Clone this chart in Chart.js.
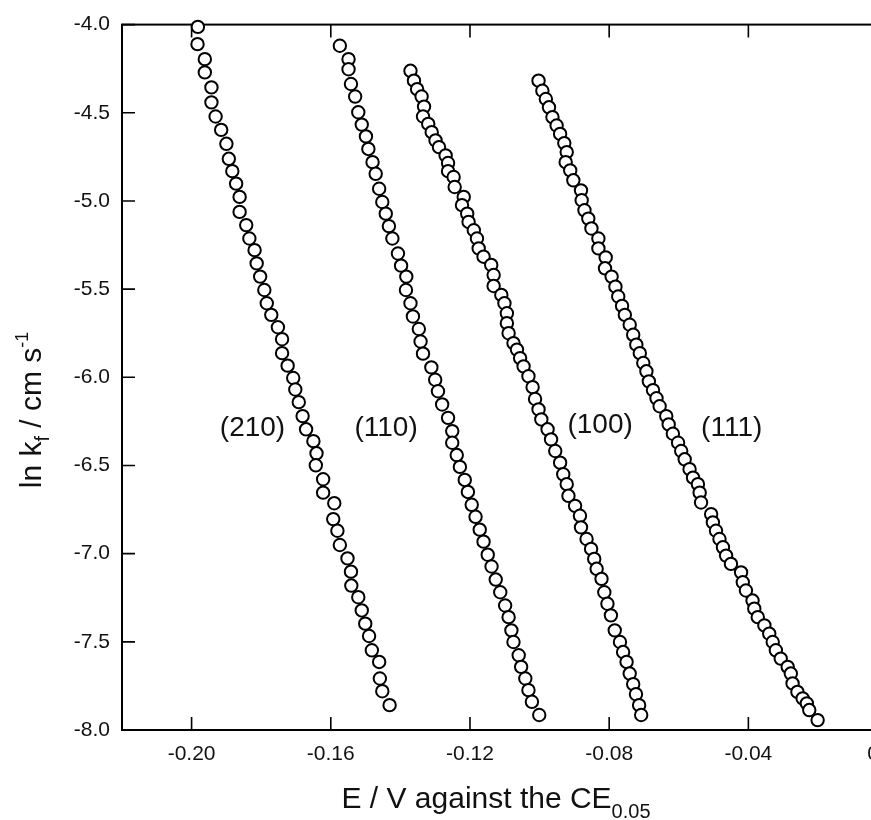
<!DOCTYPE html>
<html><head><meta charset="utf-8">
<script src="https://cdn.jsdelivr.net/npm/chart.js@4.4.1/dist/chart.umd.min.js"></script>
<style>
html,body{margin:0;padding:0;background:#fff;overflow:hidden;}
#wrap{position:relative;width:920px;height:820px;}
</style></head><body>
<div id="wrap"><canvas id="c" width="920" height="820"></canvas></div>
<script>
// ---- axis ticks ----
const xTicks = [-0.20, -0.16, -0.12, -0.08, -0.04, 0.00];
const yTicks = [-8.0, -7.5, -7.0, -6.5, -6.0, -5.5, -5.0, -4.5, -4.0];

// ---- series names and label anchors (data units) ----
const seriesNames = ["(210)", "(110)", "(100)", "(111)"];
const labelX = [-0.1825, -0.1441, -0.0826, -0.0448];
const labelY = [-6.29, -6.29, -6.27, -6.29];

// ---- (210) ----
const e210 = [-0.1982,-0.1983,-0.1962,-0.1962,-0.1943,-0.1943,-0.1931,-0.1915,-0.1900,-0.1893,
  -0.1883,-0.1872,-0.1862,-0.1862,-0.1843,-0.1834,-0.1819,-0.1813,-0.1803,-0.1791,
  -0.1784,-0.1771,-0.1752,-0.1740,-0.1740,-0.1724,-0.1708,-0.1702,-0.1692,-0.1681,
  -0.1671,-0.1650,-0.1641,-0.1643,-0.1622,-0.1622,-0.1590,-0.1593,-0.1581,-0.1574,
  -0.1552,-0.1542,-0.1541,-0.1521,-0.1511,-0.1501,-0.1490,-0.1482,-0.1461,-0.1459,
  -0.1452,-0.1431];
const k210 = [-4.013,-4.111,-4.196,-4.271,-4.356,-4.441,-4.521,-4.597,-4.676,-4.761,
  -4.831,-4.902,-4.977,-5.062,-5.137,-5.213,-5.279,-5.354,-5.429,-5.505,
  -5.580,-5.646,-5.716,-5.784,-5.863,-5.934,-6.004,-6.069,-6.141,-6.220,
  -6.295,-6.362,-6.431,-6.499,-6.578,-6.654,-6.714,-6.804,-6.870,-6.951,
  -7.027,-7.102,-7.181,-7.247,-7.322,-7.397,-7.467,-7.548,-7.614,-7.708,
  -7.780,-7.859];

// ---- (110) ----
const e110 = [-0.1574,-0.1549,-0.1549,-0.1542,-0.1530,-0.1521,-0.1511,-0.1499,-0.1492,-0.1480,
  -0.1471,-0.1461,-0.1452,-0.1442,-0.1433,-0.1423,-0.1407,-0.1398,-0.1383,-0.1384,
  -0.1371,-0.1364,-0.1347,-0.1342,-0.1335,-0.1311,-0.1300,-0.1292,-0.1280,-0.1263,
  -0.1251,-0.1251,-0.1238,-0.1229,-0.1215,-0.1206,-0.1195,-0.1184,-0.1172,-0.1161,
  -0.1149,-0.1138,-0.1126,-0.1113,-0.1099,-0.1089,-0.1081,-0.1075,-0.1060,-0.1053,
  -0.1041,-0.1032,-0.1022,-0.1001];
const k110 = [-4.120,-4.196,-4.253,-4.337,-4.408,-4.497,-4.567,-4.634,-4.705,-4.780,
  -4.846,-4.931,-5.006,-5.072,-5.143,-5.213,-5.298,-5.367,-5.429,-5.505,
  -5.580,-5.655,-5.726,-5.797,-5.866,-5.944,-6.014,-6.079,-6.154,-6.230,
  -6.305,-6.371,-6.441,-6.508,-6.582,-6.650,-6.723,-6.791,-6.864,-6.932,
  -7.006,-7.073,-7.147,-7.219,-7.294,-7.360,-7.435,-7.501,-7.576,-7.642,
  -7.708,-7.774,-7.840,-7.915];

// ---- (100) ----
const e100 = [-0.1371,-0.1361,-0.1352,-0.1339,-0.1332,-0.1335,-0.1320,-0.1310,-0.1299,-0.1289,
  -0.1270,-0.1263,-0.1263,-0.1247,-0.1244,-0.1218,-0.1223,-0.1208,-0.1204,-0.1189,
  -0.1180,-0.1175,-0.1161,-0.1139,-0.1132,-0.1132,-0.1110,-0.1101,-0.1094,-0.1094,
  -0.1089,-0.1075,-0.1065,-0.1056,-0.1046,-0.1032,-0.1020,-0.1013,-0.1003,-0.0995,
  -0.0977,-0.0967,-0.0955,-0.0941,-0.0932,-0.0922,-0.0917,-0.0898,-0.0884,-0.0881,
  -0.0865,-0.0852,-0.0843,-0.0836,-0.0822,-0.0814,-0.0805,-0.0795,-0.0784,-0.0769,
  -0.0760,-0.0750,-0.0741,-0.0731,-0.0723,-0.0714,-0.0708];
const k100 = [-4.262,-4.318,-4.366,-4.408,-4.465,-4.521,-4.563,-4.610,-4.657,-4.695,
  -4.742,-4.785,-4.831,-4.864,-4.921,-4.977,-5.024,-5.072,-5.119,-5.166,
  -5.213,-5.269,-5.316,-5.363,-5.420,-5.482,-5.533,-5.580,-5.637,-5.693,
  -5.750,-5.806,-5.843,-5.891,-5.938,-5.994,-6.056,-6.123,-6.182,-6.239,
  -6.295,-6.352,-6.418,-6.484,-6.550,-6.606,-6.672,-6.729,-6.785,-6.851,
  -6.917,-6.973,-7.030,-7.086,-7.143,-7.219,-7.284,-7.350,-7.435,-7.501,
  -7.558,-7.614,-7.680,-7.740,-7.797,-7.859,-7.915];

// ---- (111) ----
const e111 = [-0.1003,-0.0992,-0.0982,-0.0973,-0.0963,-0.0951,-0.0941,-0.0929,-0.0922,-0.0925,
  -0.0912,-0.0903,-0.0881,-0.0879,-0.0871,-0.0860,-0.0851,-0.0831,-0.0831,-0.0810,
  -0.0812,-0.0793,-0.0782,-0.0774,-0.0763,-0.0755,-0.0741,-0.0731,-0.0722,-0.0712,
  -0.0702,-0.0693,-0.0686,-0.0674,-0.0664,-0.0655,-0.0636,-0.0629,-0.0617,-0.0602,
  -0.0593,-0.0583,-0.0569,-0.0559,-0.0545,-0.0540,-0.0536,-0.0507,-0.0502,-0.0493,
  -0.0483,-0.0473,-0.0464,-0.0450,-0.0421,-0.0416,-0.0407,-0.0388,-0.0383,-0.0373,
  -0.0354,-0.0340,-0.0330,-0.0321,-0.0307,-0.0287,-0.0278,-0.0273,-0.0259,-0.0244,
  -0.0232,-0.0225,-0.0201];
const k111 = [-4.318,-4.375,-4.422,-4.469,-4.525,-4.572,-4.620,-4.672,-4.723,-4.780,
  -4.827,-4.883,-4.940,-4.996,-5.053,-5.100,-5.156,-5.213,-5.269,-5.320,
  -5.382,-5.429,-5.486,-5.542,-5.595,-5.646,-5.702,-5.759,-5.815,-5.863,
  -5.919,-5.966,-6.023,-6.073,-6.119,-6.164,-6.220,-6.267,-6.320,-6.371,
  -6.418,-6.465,-6.521,-6.569,-6.606,-6.654,-6.710,-6.776,-6.823,-6.870,
  -6.917,-6.964,-7.011,-7.058,-7.106,-7.162,-7.209,-7.266,-7.312,-7.360,
  -7.407,-7.454,-7.501,-7.548,-7.595,-7.642,-7.680,-7.736,-7.784,-7.821,
  -7.849,-7.887,-7.944];

const FONT = "'Liberation Sans', Arial, Helvetica, sans-serif";
const INK = '#111';

function pts(xs, ys){ return xs.map((v,i)=>({x:v, y:ys[i]})); }
function ds(xs, ys, name){
  return { label:name, data:pts(xs,ys), showLine:false, clip:false,
    pointRadius:6.2, pointHoverRadius:6.2, pointBorderWidth:2,
    pointBackgroundColor:'#fff', pointBorderColor:'#000' };
}

function drawRich(ctx, parts, cx, cy){
  let w = 0;
  parts.forEach(p=>{ ctx.font = p[1]+'px '+FONT; w += ctx.measureText(p[0]).width; });
  let x = cx - w/2;
  parts.forEach(p=>{ ctx.font = p[1]+'px '+FONT; ctx.fillText(p[0], x, cy + p[2]); x += ctx.measureText(p[0]).width; });
}

const framePlugin = {
  id:'frame',
  beforeDatasetsDraw(chart){
    const {ctx, chartArea:a, scales:{x, y}} = chart;
    ctx.save();
    ctx.strokeStyle = '#000';
    ctx.lineWidth = 2;
    ctx.strokeRect(a.left, a.top, a.right - a.left, a.bottom - a.top);
    ctx.lineWidth = 1.6;
    ctx.beginPath();
    x.ticks.forEach(t=>{
      const px = x.getPixelForValue(t.value);
      ctx.moveTo(px, a.bottom); ctx.lineTo(px, a.bottom - 13);
      ctx.moveTo(px, a.top); ctx.lineTo(px, a.top + 13);
    });
    y.ticks.forEach(t=>{
      const py = y.getPixelForValue(t.value);
      ctx.moveTo(a.left, py); ctx.lineTo(a.left + 13, py);
      ctx.moveTo(a.right, py); ctx.lineTo(a.right - 13, py);
    });
    ctx.stroke();
    ctx.restore();
  },
  afterDraw(chart){
    const {ctx, scales:{x, y}} = chart;
    ctx.save();
    ctx.fillStyle = INK;
    ctx.textAlign = 'left';
    ctx.textBaseline = 'middle';
    ctx.font = '28px ' + FONT;
    seriesNames.forEach((n,i)=>{
      const w = ctx.measureText(n).width;
      ctx.fillText(n, x.getPixelForValue(labelX[i]) - w/2, y.getPixelForValue(labelY[i]));
    });
    ctx.textBaseline = 'alphabetic';
    drawRich(ctx, [["E / V against the CE", 30, 0], ["0.05", 20, 10]], 496, 808);
    ctx.translate(41, 410);
    ctx.rotate(-Math.PI/2);
    drawRich(ctx, [["ln k", 30, 0], ["f", 20, 8], [" / cm s", 30, 0], ["-1", 18, -13]], 0, 0);
    ctx.restore();
  }
};

new Chart(document.getElementById('c'), {
  type:'scatter',
  data:{ datasets:[ ds(e210,k210,seriesNames[0]), ds(e110,k110,seriesNames[1]),
                    ds(e100,k100,seriesNames[2]), ds(e111,k111,seriesNames[3]) ] },
  options:{
    responsive:false, animation:false, devicePixelRatio:1,
    layout:{ padding:{ top:22, right:30, left:0, bottom:0 } },
    plugins:{ legend:{display:false}, tooltip:{enabled:false}, title:{display:false} },
    scales:{
      x:{ type:'linear', min:-0.22, max:0,
        afterBuildTicks(s){ s.ticks = xTicks.map(v=>({value:v})); },
        afterFit(s){ s.height = 90; },
        grid:{ display:false, drawTicks:false }, border:{ display:false },
        ticks:{ padding:12, color:INK, font:{ family:FONT, size:21 }, maxRotation:0, autoSkip:false,
          callback:(v)=>Number(v).toFixed(2) } },
      y:{ type:'linear', min:-8, max:-4,
        afterBuildTicks(s){ s.ticks = yTicks.map(v=>({value:v})); },
        afterFit(s){ s.width = 122; },
        grid:{ display:false, drawTicks:false }, border:{ display:false },
        ticks:{ padding:12, color:INK, font:{ family:FONT, size:21 }, autoSkip:false,
          callback:(v)=>Number(v).toFixed(1) } }
    }
  },
  plugins:[framePlugin]
});
</script>
</body></html>
